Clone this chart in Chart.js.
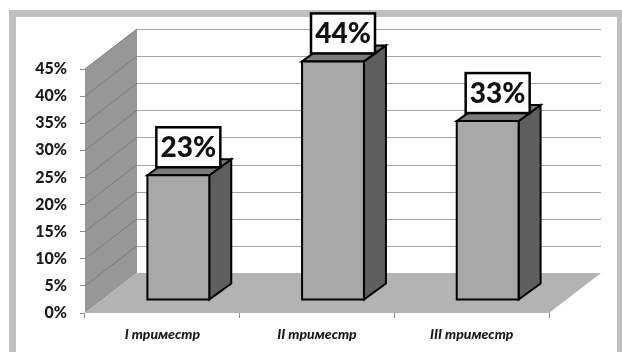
<!DOCTYPE html>
<html>
<head>
<meta charset="utf-8">
<script src="https://cdn.jsdelivr.net/npm/chart.js@4.4.1/dist/chart.umd.min.js"></script>
<style>
  html, body { margin: 0; padding: 0; background: #ffffff; }
  #wrap { position: relative; width: 622px; height: 352px; }
</style>
</head>
<body>
<div id="wrap"><canvas id="c" width="622" height="352"></canvas></div>
<script>
// Distribution by trimester, percent
const categories = ['I триместр', 'II триместр', 'III триместр'];
const shares = [23, 44, 33];
const percentTicks = [0, 5, 10, 15, 20, 25, 30, 35, 40, 45];

// Perspective offsets of the box (walls/floor) and of each bar
const WALL_DX = 52, WALL_DY = -40;
const BAR_SHIFT_X = 16, BAR_SHIFT_Y = -13;
const BAR_DX = 22, BAR_DY = -16;

function poly(ctx, pts, fill, stroke, lw) {
  ctx.beginPath();
  ctx.moveTo(pts[0][0], pts[0][1]);
  for (let i = 1; i < pts.length; i++) ctx.lineTo(pts[i][0], pts[i][1]);
  ctx.closePath();
  if (fill) { ctx.fillStyle = fill; ctx.fill(); }
  if (stroke) { ctx.strokeStyle = stroke; ctx.lineWidth = lw; ctx.lineJoin = 'miter'; ctx.stroke(); }
}

const box3d = {
  id: 'box3d',
  beforeDraw(chart) {
    const ctx = chart.ctx;
    const { left: L, right: R, top: T, bottom: B } = chart.chartArea;
    const y = chart.scales.y;
    ctx.save();
    // outer frame
    ctx.fillStyle = '#ffffff';
    ctx.fillRect(0, 0, chart.width, chart.height);
    ctx.fillStyle = '#c0c0c0';
    ctx.fillRect(9, 10, chart.width - 9, chart.height - 10);
    ctx.fillStyle = '#ffffff';
    ctx.fillRect(16, 17, 601, chart.height - 17);

    // back wall grid
    ctx.strokeStyle = '#a3a3a3';
    ctx.lineWidth = 1;
    percentTicks.forEach(v => {
      if (v === 0) return;
      const py = Math.round(y.getPixelForValue(v) + WALL_DY) + 0.5;
      ctx.beginPath();
      ctx.moveTo(L + WALL_DX, py);
      ctx.lineTo(R + WALL_DX, py);
      ctx.stroke();
    });

    // side wall
    poly(ctx, [[L, T], [L + WALL_DX, T + WALL_DY], [L + WALL_DX, B + WALL_DY], [L, B]], '#979797');
    ctx.strokeStyle = '#7c7c7c';
    percentTicks.forEach(v => {
      if (v === 0) return;
      const py = y.getPixelForValue(v);
      ctx.beginPath();
      ctx.moveTo(L, py);
      ctx.lineTo(L + WALL_DX, py + WALL_DY);
      ctx.stroke();
    });

    // floor
    poly(ctx, [[L, B], [R, B], [R + WALL_DX, B + WALL_DY], [L + WALL_DX, B + WALL_DY]], '#b3b3b3');
    ctx.restore();
  },
  afterDatasetsDraw(chart) {
    const ctx = chart.ctx;
    const meta = chart.getDatasetMeta(0);
    const values = chart.data.datasets[0].data;
    ctx.save();
    meta.data.forEach((el, i) => {
      const w = el.width;
      const x0 = el.x - w / 2 + BAR_SHIFT_X;
      const x1 = x0 + w;
      const y0 = el.y + BAR_SHIFT_Y;
      const y1 = el.base + BAR_SHIFT_Y;
      // side, top, front
      poly(ctx, [[x1, y0], [x1 + BAR_DX, y0 + BAR_DY], [x1 + BAR_DX, y1 + BAR_DY], [x1, y1]], '#5f5f5f', '#000', 2);
      poly(ctx, [[x0, y0], [x0 + BAR_DX, y0 + BAR_DY], [x1 + BAR_DX, y0 + BAR_DY], [x1, y0]], '#7b7b7b', '#000', 2);
      poly(ctx, [[x0, y0], [x1, y0], [x1, y1], [x0, y1]], '#a8a8a8', '#000', 2);

      // value label box
      const cx = (x0 + x1) / 2 + 10;
      const bw = 64, bh = 40;
      const by = y0 - 8 - bh;
      ctx.fillStyle = '#ffffff';
      ctx.fillRect(cx - bw / 2, by, bw, bh);
      ctx.strokeStyle = '#000';
      ctx.lineWidth = 2.5;
      ctx.strokeRect(cx - bw / 2, by, bw, bh);
      ctx.fillStyle = '#111';
      ctx.font = '900 28px Lato, "Open Sans", sans-serif';
      ctx.textAlign = 'center';
      ctx.textBaseline = 'middle';
      ctx.fillText(values[i] + '%', cx, by + bh / 2 + 1);
    });
    ctx.restore();
  }
};

new Chart(document.getElementById('c'), {
  type: 'bar',
  data: {
    labels: categories,
    datasets: [{
      data: shares,
      backgroundColor: 'rgba(0,0,0,0)',
      borderWidth: 0,
      categoryPercentage: 1,
      barPercentage: 0.4
    }]
  },
  options: {
    responsive: false,
    animation: false,
    devicePixelRatio: 1,
    layout: { padding: { top: 69, right: 73, left: 0, bottom: 0 } },
    plugins: { legend: { display: false }, tooltip: { enabled: false } },
    scales: {
      x: {
        afterFit(s) { s.height = 39; },
        border: { display: false },
        grid: { offset: true, drawOnChartArea: false, drawTicks: true, tickLength: 5, color: '#8c8c8c' },
        ticks: {
          padding: 8,
          color: '#1a1a1a',
          font: { family: 'Lato, "Open Sans", sans-serif', size: 14, weight: 900, style: 'italic' }
        }
      },
      y: {
        min: 0,
        max: 45,
        afterFit(s) { s.width = 85; },
        afterBuildTicks(s) { s.ticks = percentTicks.map(v => ({ value: v })); },
        border: { display: false },
        grid: { drawOnChartArea: false, drawTicks: true, tickLength: 5, color: '#8c8c8c' },
        ticks: {
          padding: 13,
          color: '#1a1a1a',
          callback: v => v + '%',
          font: { family: 'Lato, "Open Sans", sans-serif', size: 16, weight: 900 }
        }
      }
    }
  },
  plugins: [box3d]
});
</script>
</body>
</html>
